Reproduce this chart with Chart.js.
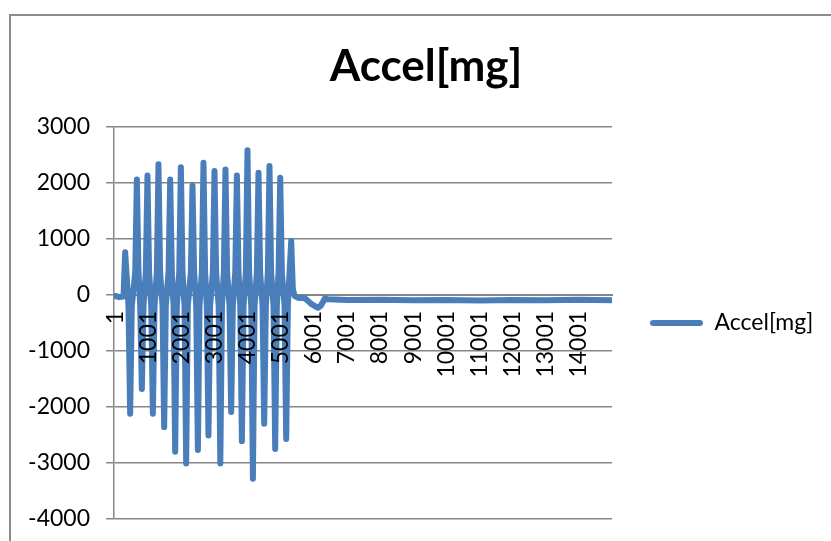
<!DOCTYPE html>
<html>
<head>
<meta charset="utf-8">
<script src="https://cdn.jsdelivr.net/npm/chart.js@4.4.0/dist/chart.umd.min.js"></script>
<style>
  html, body { margin: 0; padding: 0; background: #fff; overflow: hidden; }
  #wrap { width: 831px; height: 541px; }
</style>
</head>
<body>
<div id="wrap"><canvas id="accelChart" width="831" height="541"></canvas></div>
<script>
// sample number / value pairs: each spike with the edges of
// the dense band around zero on both sides, then the decay and the flat tail
const sampleIndex = [1, 120, 247,
    297, 347, 398, 448, 498, 601, 651, 701, 752, 802, 852,
    921, 971, 1021, 1085, 1135, 1185, 1254, 1304, 1354, 1426, 1476, 1526,
    1608, 1658, 1708, 1759, 1809, 1859, 1931, 1981, 2031, 2091, 2141, 2191,
    2282, 2332, 2382, 2445, 2495, 2545, 2614, 2664, 2714, 2765, 2815, 2865,
    2947, 2997, 3047, 3123, 3173, 3223, 3279, 3329, 3379, 3451, 3501, 3551,
    3624, 3674, 3724, 3775, 3825, 3875, 3944, 3994, 4044, 4108, 4158, 4208,
    4277, 4327, 4377, 4449, 4499, 4549, 4609, 4659, 4709, 4781, 4831, 4881,
    4933, 4983, 5033, 5114, 5164, 5214, 5265, 5315, 5365,
    5420, 5518, 5730, 5942, 6123, 6215, 6335, 6426,
    7000, 8000, 9000, 10000, 11000, 12000, 13000, 14000, 15000];
const accelValues = [-20, -40, -30,
    760, 300, -200, -2120, -200, 400, 2060, 400, -200, -1680, -200,
    400, 2130, 400, -200, -2120, -200, 400, 2330, 400, -200, -2360, -200,
    400, 2060, 400, -200, -2800, -200, 400, 2280, 400, -200, -3010, -200,
    400, 1950, 400, -200, -2770, -200, 400, 2360, 400, -200, -2510, -200,
    400, 2210, 400, -200, -3010, -200, 400, 2240, 400, -200, -2090, -200,
    400, 2130, 400, -200, -2610, -200, 400, 2580, 400, -200, -3280, -200,
    400, 2180, 400, -200, -2300, -200, 400, 2300, 400, -200, -2750, -200,
    400, 2090, 400, -200, -2570, -200, 400, 960, 100,
    -20, -50, -60, -170, -230, -190, -60, -80,
    -90, -85, -95, -90, -100, -90, -95, -85, -95];

const xTickValues = [1, 1001, 2001, 3001, 4001, 5001, 6001, 7001, 8001, 9001, 10001, 11001, 12001, 13001, 14001];
const xTickLabels = ['1', '1001', '2001', '3001', '4001', '5001', '6001', '7001', '8001', '9001',
    '10001', '11001', '12001', '13001', '14001'];

const lineBlue = '#4a7ebb';
const axisGray = '#868686';
const fontFamily = 'Lato, "Open Sans", sans-serif';

// outer chart frame (Excel chart border, cut off at right/bottom)
const chartFrame = {
    id: 'chartFrame',
    beforeDraw(chart) {
        const ctx = chart.ctx;
        ctx.save();
        ctx.fillStyle = '#fff';
        ctx.fillRect(0, 0, chart.width, chart.height);
        ctx.strokeStyle = '#8c8c8c';
        ctx.lineWidth = 2;
        ctx.beginPath();
        ctx.moveTo(10, chart.height + 5);
        ctx.lineTo(10, 15);
        ctx.lineTo(chart.width + 5, 15);
        ctx.stroke();
        ctx.restore();
    }
};

// pin the legend column width so the plot ends where the reference does
const legendWidth = {
    id: 'legendWidth',
    beforeLayout(chart) {
        const lg = chart.legend;
        if (lg && !lg._pinned) {
            const fit = lg.fit.bind(lg);
            lg.fit = function () { fit(); this.width = 219; };
            lg._pinned = true;
        }
    }
};

const points = sampleIndex.map((x, i) => ({ x: x, y: accelValues[i] }));

new Chart(document.getElementById('accelChart').getContext('2d'), {
    type: 'line',
    data: {
        datasets: [{
            label: 'Accel[mg]',
            data: points,
            borderColor: lineBlue,
            backgroundColor: lineBlue,
            borderWidth: 6,
            borderJoinStyle: 'round',
            borderCapStyle: 'round',
            pointRadius: 0,
            tension: 0,
            fill: false
        }]
    },
    options: {
        responsive: false,
        animation: false,
        layout: { padding: { left: 21, right: 0, top: 0, bottom: 22 } },
        scales: {
            x: {
                type: 'linear',
                min: -40,
                max: 15010,
                position: { y: 0 },
                grid: { display: false, drawTicks: false },
                border: { display: true, color: axisGray, width: 2 },
                afterBuildTicks(scale) {
                    scale.ticks = xTickValues.map(v => ({ value: v }));
                },
                ticks: {
                    z: 1,
                    autoSkip: false,
                    minRotation: 90,
                    maxRotation: 90,
                    padding: 16,
                    color: '#000',
                    font: { family: fontFamily, size: 23 },
                    callback: (v, i) => xTickLabels[i]
                }
            },
            y: {
                min: -4000,
                max: 3000,
                afterFit(scale) { scale.width = 93; },
                grid: { color: axisGray, lineWidth: 1.5, tickLength: 8 },
                border: { display: true, color: axisGray, width: 1.5 },
                ticks: {
                    stepSize: 1000,
                    padding: 16,
                    color: '#000',
                    font: { family: fontFamily, size: 23, lineHeight: 0.5 },
                    callback: v => String(v)
                }
            }
        },
        plugins: {
            title: {
                display: true,
                text: 'Accel[mg]',
                color: '#000',
                font: { family: fontFamily, size: 44, weight: 'bold', lineHeight: 1.2 },
                padding: { top: 40, bottom: 34 }
            },
            legend: {
                position: 'right',
                fullSize: false,
                labels: {
                    color: '#000',
                    font: { family: fontFamily, size: 23 },
                    boxWidth: 53,
                    boxHeight: 6,
                    padding: 38,
                    useBorderRadius: true,
                    borderRadius: 3,
                    generateLabels(chart) {
                        const items = Chart.defaults.plugins.legend.labels.generateLabels(chart);
                        items.forEach(it => { it.lineWidth = 0; it.fillStyle = lineBlue; });
                        return items;
                    }
                }
            },
            tooltip: { enabled: false }
        }
    },
    plugins: [chartFrame, legendWidth]
});
</script>
</body>
</html>
